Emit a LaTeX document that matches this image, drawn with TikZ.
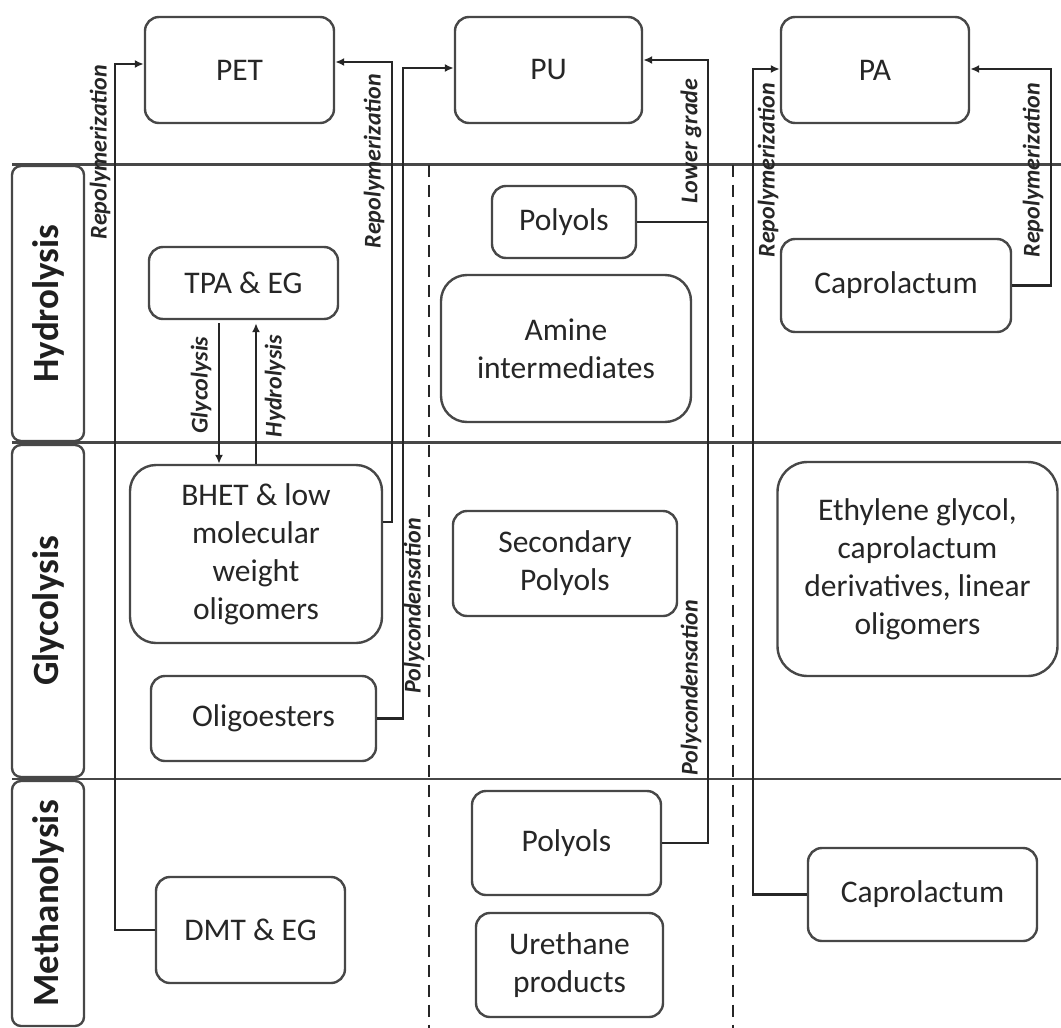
\documentclass[tikz,border=0pt]{standalone}
\usepackage{fontspec}
\setmainfont{Carlito}
\usetikzlibrary{arrows.meta,positioning}

\tikzset{
  procbox/.style={draw=black!72, line width=2.4pt, rounded corners=14pt, align=center, inner sep=2pt, text=black!85, font=\fontsize{31.5}{38}\selectfont},
  rowbox/.style={draw=black!72, line width=2.4pt, rounded corners=9pt, rotate=90, minimum height=72pt, text=black!88, font=\fontsize{37}{40}\selectfont\bfseries},
  flowlab/.style={rotate=90, inner sep=0pt, text=black!85, font=\fontsize{24}{26}\selectfont\bfseries\itshape},
  flow/.style={draw=black!85, line width=2.8pt, -{Latex[length=9pt,width=8pt]}},
  link/.style={draw=black!85, line width=2.8pt},
  sep/.style={draw=black!72, line width=2.4pt},
  sepdash/.style={draw=black!85, line width=2pt, dash pattern=on 12pt off 8pt}
}

\begin{document}
\begin{tikzpicture}[x=1pt, y=-1pt]
  \useasboundingbox (0,0) rectangle (1061,1028);

  % rows and columns
  \draw[sep] (12,164.5) -- (1061,164.5);
  \draw[sep] (12,442.5) -- (1061,442.5);
  \draw[sep] (12,779) -- (1061,779);
  \draw[sepdash] (429,164.5) -- (429,1028);
  \draw[sepdash] (733,164.5) -- (733,1028);

  \node[rowbox, minimum width=275pt] (hyd) at (48,303.5) {Hydrolysis};
  \node[rowbox, minimum width=332pt] (gly) at (48,611) {Glycolysis};
  \node[rowbox, minimum width=245pt] (meth) at (48,903.5) {Methanolysis};

  % polymers
  \node[procbox, minimum width=189pt, minimum height=106pt] (pet) at (239.5,70) {PET};
  \node[procbox, minimum width=187pt, minimum height=106pt] (pu) at (548.5,70) {PU};
  \node[procbox, minimum width=188pt, minimum height=106pt] (pa) at (875,70) {PA};

  % products
  \node[procbox, minimum width=189pt, minimum height=72pt] (tpa) at (243.5,283) {TPA \& EG};
  \node[procbox, minimum width=252pt, minimum height=178pt, rounded corners=26pt] (bhet) at (256,554) {BHET \& low\\molecular\\weight\\oligomers};
  \node[procbox, minimum width=225pt, minimum height=85pt] (oligo) at (263.5,718.5) {Oligoesters};
  \node[procbox, minimum width=189pt, minimum height=106pt] (dmt) at (250.5,930) {DMT \& EG};

  \node[procbox, minimum width=144pt, minimum height=72pt] (pol1) at (564,222) {Polyols};
  \node[procbox, minimum width=250pt, minimum height=147pt, rounded corners=26pt] (amine) at (566,348.5) {Amine\\intermediates};
  \node[procbox, minimum width=224pt, minimum height=105pt] (secpol) at (565,563.5) {Secondary\\Polyols};
  \node[procbox, minimum width=189pt, minimum height=104pt] (pol2) at (566.5,843) {Polyols};
  \node[procbox, minimum width=187pt, minimum height=104pt] (ure) at (569.5,965) {Urethane\\products};

  \node[procbox, minimum width=230pt, minimum height=93pt] (cap1) at (896,285.5) {Caprolactum};
  \node[procbox, minimum width=280pt, minimum height=214pt, rounded corners=30pt] (eg) at (917.5,569) {Ethylene glycol,\\caprolactum\\derivatives, linear\\oligomers};
  \node[procbox, minimum width=229pt, minimum height=93pt] (cap2) at (922.5,894.5) {Caprolactum};

  % connectors
  \coordinate (rpl) at (115,64);
  \coordinate (bh) at (392,522);
  \coordinate (rpr) at (392,62);
  \coordinate (pc) at (403,68);
  \coordinate (lg) at (708,60);
  \coordinate (pal) at (753,69);
  \coordinate (par) at (1051,69);
  \coordinate (ga) at (219,0);
  \coordinate (ha) at (256,0);

  \draw[flow] (dmt.west) -| (rpl) -- (rpl -| pet.west);
  \draw[flow] (bhet.east |- bh) -- (bh) -- (rpr) -- (rpr -| pet.east);
  \draw[flow] (oligo.east) -| (pc) -- (pc -| pu.west);
  \draw[flow] (pol2.east) -| (lg) -- (lg -| pu.east);
  \draw[link] (pol1.east) -- (pol1.east -| lg);
  \draw[flow] (cap2.west) -| (pal) -- (pal -| pa.west);
  \draw[flow] (cap1.east) -| (par) -- (par -| pa.east);
  \draw[flow] ([yshift=-3pt]tpa.south -| ga) -- (bhet.north -| ga);
  \draw[flow] (bhet.north -| ha) -- ([yshift=-3pt]tpa.south -| ha);

  % connector labels
  \node[flowlab] (l1) at (100,152) {Repolymerization};
  \node[flowlab] (l2) at (374,161) {Repolymerization};
  \node[flowlab] (l3) at (201,385) {Glycolysis};
  \node[flowlab] (l4) at (275,386) {Hydrolysis};
  \node[flowlab] (l5) at (414,606) {Polycondensation};
  \node[flowlab] (l6) at (691,141) {Lower grade};
  \node[flowlab] (l7) at (691,688) {Polycondensation};
  \node[flowlab] (l8) at (768,170) {Repolymerization};
  \node[flowlab] (l9) at (1033,170) {Repolymerization};
\end{tikzpicture}
\end{document}
